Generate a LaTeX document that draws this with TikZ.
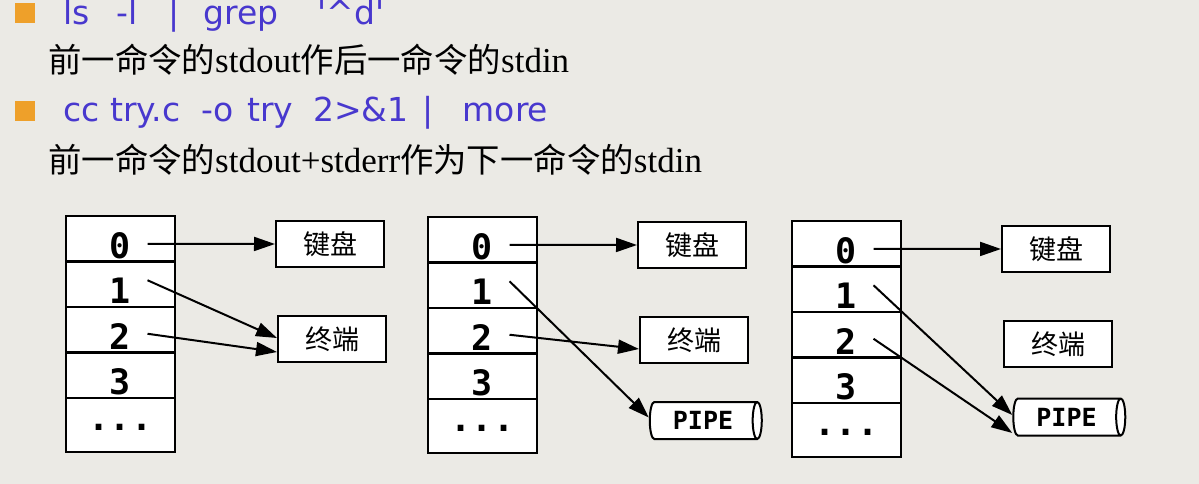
\documentclass[tikz,border=0pt]{standalone}
\usepackage{fontspec}
\setmainfont{Liberation Serif}
\newfontfamily\zhfont{Noto Sans CJK SC}
\newfontfamily\cmdfont{DejaVu Sans}
\newfontfamily\fdfont{DejaVu Sans Mono}
\usetikzlibrary{positioning, shapes.geometric, arrows.meta}

\definecolor{pagebg}{RGB}{235,234,229}
\definecolor{cmdblue}{RGB}{72,56,206}
\definecolor{bulletorange}{RGB}{238,160,42}

\newcommand{\zh}[1]{{\zhfont\fontsize{33.4}{33.4}\selectfont #1}}

\tikzset{
  cell/.style={draw, line width=2.3pt, fill=white, minimum width=109pt,
    minimum height=45.5pt, inner sep=0pt, outer sep=0pt,
    font=\fdfont\bfseries\fontsize{35}{35}\selectfont, text height=39pt, text depth=0pt},
  dev/.style={draw, line width=2pt, fill=white, minimum width=108pt,
    minimum height=46pt, inner sep=0pt, font=\zhfont\fontsize{27}{27}\selectfont},
  pipe/.style={cylinder, draw, line width=2pt, fill=white, aspect=0.5,
    minimum height=112pt, minimum width=37pt, inner sep=0pt,
    font=\fdfont\bfseries\fontsize{25}{25}\selectfont},
  fdarrow/.style={-{Triangle[length=21pt,width=14pt]}, line width=2pt},
  bullet/.style={fill=bulletorange, minimum size=20pt, inner sep=0pt},
  cmd/.style={anchor=base west, inner sep=0pt, text=cmdblue,
    font=\cmdfont\fontsize{33}{33}\selectfont},
  desc/.style={anchor=base west, inner sep=0pt, font=\fontsize{35}{35}\selectfont},
}

\begin{document}
\begin{tikzpicture}[x=1pt, y=-1pt]
  \useasboundingbox (0,0) rectangle (1199,484);
  \fill[pagebg] (0,0) rectangle (1199,484);

  % commands and their meaning
  \node[bullet] (b1) at (25,13) {};
  \node[cmd] (c1) at (63,25) {ls\hspace{27pt}-l\hspace{31pt}|\hspace{24pt}grep\hspace{39pt}'\textasciicircum d'};
  \node[desc] (d1) at (48,73) {\zh{前一命令的}stdout\zh{作后一命令的}stdin};
  \node[bullet] (b2) at (25,111) {};
  \node[cmd] (c2) at (63,122) {cc\hspace{11pt}try.c\hspace{21pt}-o\hspace{13pt}try\hspace{20pt}2>\&1\hspace{14pt}|\hspace{29pt}more};
  \node[desc] (d2) at (48,172) {\zh{前一命令的}stdout+stderr\zh{作为下一命令的}stdin};

  % file descriptor tables
  \foreach \n/\x/\y in {a/66/216, b/428/217, c/792/221}{
    \node[cell, anchor=north west] (\n0) at (\x,\y) {0};
    \node[cell, below=0pt of \n0] (\n1) {1};
    \node[cell, below=0pt of \n1] (\n2) {2};
    \node[cell, below=0pt of \n2] (\n3) {3};
    \node[cell, below=0pt of \n3, minimum height=54pt, text height=10pt] (\n4) {...};
    \node[dev] (\n k) at ({\x+264},{\y+28}) {键盘};
    \node[dev] (\n t) at ({\x+266},{\y+123}) {终端};
  }
  \node[pipe] (bp) at (703,420.5) {PIPE};
  \node[pipe] (cp) at (1066.5,417) {PIPE};

  % ls -l | grep
  \draw[fdarrow] ([xshift=27pt,yshift=-5pt]a0.center) -- (ak.west);
  \draw[fdarrow] ([xshift=27pt,yshift=4pt]a1.center) -- ([yshift=1pt]at.west);
  \draw[fdarrow] ([xshift=27pt,yshift=-4pt]a2.center) -- ([yshift=-13pt]at.west);

  \draw[fdarrow] ([xshift=27pt,yshift=-5pt]b0.center) -- (bk.west);
  \draw[fdarrow] ([xshift=27pt,yshift=4pt]b1.center) -- ([yshift=3pt]bp.west);
  \draw[fdarrow] ([xshift=27pt,yshift=-4pt]b2.center) -- ([yshift=-9pt]bt.west);

  % 2>&1
  \draw[fdarrow] ([xshift=27pt,yshift=-5pt]c0.center) -- (ck.west);
  \draw[fdarrow] ([xshift=27pt,yshift=4pt]c1.center) -- ([yshift=2pt]cp.west);
  \draw[fdarrow] ([xshift=27pt,yshift=-4pt]c2.center) -- ([yshift=-16pt]cp.west);
\end{tikzpicture}
\end{document}
